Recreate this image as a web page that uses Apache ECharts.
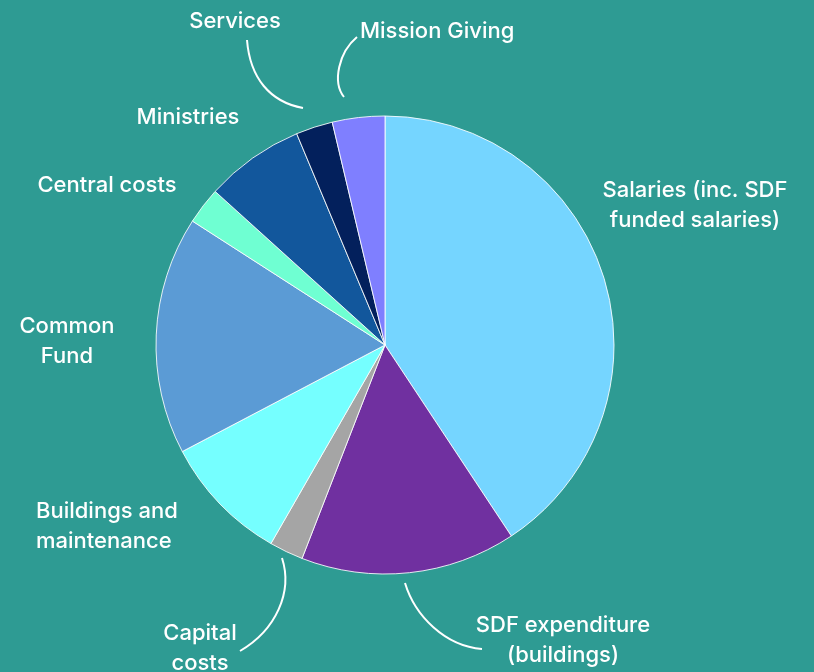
<!DOCTYPE html>
<html><head><meta charset="utf-8">
<script src="https://cdn.jsdelivr.net/npm/echarts@6/dist/echarts.min.js"></script>
<style>html,body{margin:0;padding:0;background:#2E9B93;}#c{width:814px;height:672px;}</style>
</head><body><div id="c"></div>
<script>
const categories = ["Salaries (inc. SDF\nfunded salaries)", "SDF expenditure\n(buildings)", "Capital\ncosts", "Buildings and\nmaintenance", "Common\nFund", "Central costs", "Ministries", "Services", "Mission Giving"];
const values = [40.7, 15.2, 2.4, 9.0, 16.8, 2.6, 7.0, 2.6, 3.7];
const colors = ["#75D5FF", "#7030A0", "#A5A5A5", "#75FFFF", "#5B9BD5", "#6FFFD2", "#12579C", "#03205C", "#7F7FFF"];

// label placement (layout only)
const labelPos = [
  {x: 695, y: 205, align: 'center'},
  {x: 563, y: 640, align: 'center'},
  {x: 200, y: 648, align: 'center'},
  {x: 36, y: 526, align: 'left'},
  {x: 67, y: 341, align: 'center'},
  {x: 107, y: 185, align: 'center'},
  {x: 188, y: 117, align: 'center'},
  {x: 235, y: 21, align: 'center'},
  {x: 360, y: 31, align: 'left'}
];
// curved leader lines (annotations): [x1,y1, cpx1,cpy1, cpx2,cpy2, x2,y2]
const leaders = [
  [247,40, 250,78, 270,102, 303,108],
  [357,37, 339,52, 332,82, 344,97],
  [282,558, 293,592, 276,630, 240,651],
  [405,583, 415,616, 445,646, 482,649]
];

const chart = echarts.init(document.getElementById('c'), null, {renderer: 'canvas'});
chart.setOption({
  backgroundColor: '#2E9B93',
  animation: false,
  graphic: leaders.map(l => ({
    type: 'bezierCurve',
    z: 10,
    shape: {x1: l[0], y1: l[1], cpx1: l[2], cpy1: l[3], cpx2: l[4], cpy2: l[5], x2: l[6], y2: l[7]},
    style: {stroke: '#ffffff', lineWidth: 2, fill: null}
  })),
  series: [{
    type: 'pie',
    center: [385, 345],
    radius: [0, 229],
    startAngle: 90,
    clockwise: true,
    avoidLabelOverlap: false,
    itemStyle: {borderColor: 'rgba(255,255,255,0.85)', borderWidth: 1},
    label: {
      show: true,
      position: 'outside',
      color: '#ffffff',
      fontFamily: 'Inter, "Open Sans", sans-serif',
      fontSize: 22,
      fontWeight: 500,
      lineHeight: 30,
      formatter: '{b}'
    },
    labelLine: {show: false},
    labelLayout: function (p) {
      const lp = labelPos[p.dataIndex];
      return {x: lp.x, y: lp.y, align: lp.align, verticalAlign: 'middle'};
    },
    data: categories.map((n, i) => ({
      name: n,
      value: values[i],
      itemStyle: {color: colors[i]}
    }))
  }]
});
</script></body></html>
